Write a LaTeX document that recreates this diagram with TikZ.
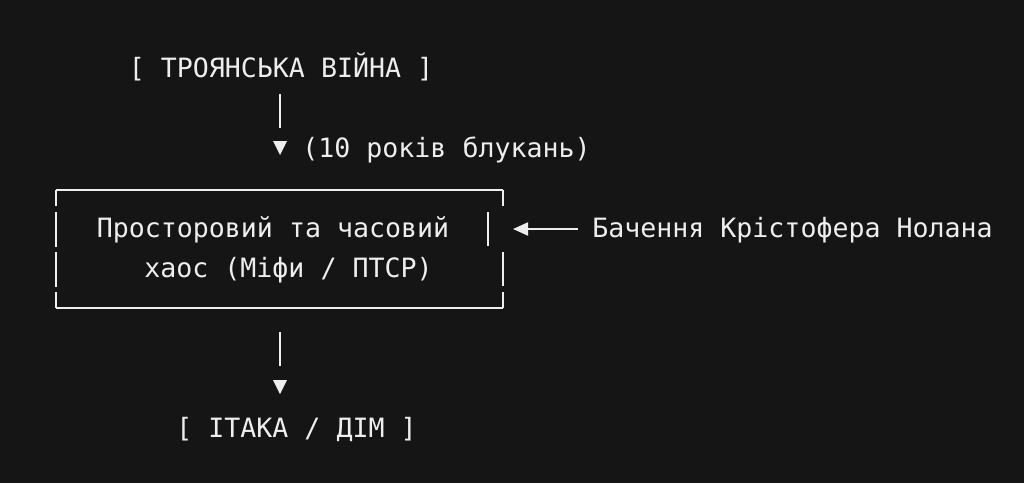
\documentclass[tikz,border=0pt]{standalone}
\usepackage{fontspec}
\setmonofont{DejaVu Sans Mono}
\usetikzlibrary{arrows.meta}
\definecolor{bg}{HTML}{151515}
\definecolor{fg}{HTML}{EEEEEE}
\begin{document}
\begin{tikzpicture}[x=1pt,y=-1pt,
  txt/.style={text=fg, font=\ttfamily\fontsize{26.6}{30}\selectfont, inner sep=0pt, anchor=base},
  ln/.style={draw=fg, line width=2pt},
  tip/.style={fill=fg}]
\fill[bg] (0,0) rectangle (1024,483);
\useasboundingbox (0,0) rectangle (1024,483);

% texts
\node[txt] (war)   at (281,77)    {[ ТРОЯНСЬКА ВІЙНА ]};
\node[txt] (years) at (446.5,157) {(10 років блукань)};
\node[txt] (l1)    at (273,237)   {Просторовий та часовий};
\node[txt] (l2)    at (288.5,277) {хаос (Міфи / ПТСР)};
\node[txt] (nolan) at (792.5,237) {Бачення Крістофера Нолана};
\node[txt] (home)  at (296.5,437) {[ ІТАКА / ДІМ ]};

% box corners
\coordinate (TL) at (56,190);
\coordinate (TR) at (503,190);
\coordinate (BL) at (56,308);
\coordinate (BR) at (503,308);

% box drawn as text-art segments
\draw[ln] (TL) -- (TR);
\draw[ln] (BL) -- (BR);
\draw[ln] (TL) -- ++(0,16);
\draw[ln] (56,212) -- (56,247);
\draw[ln] (56,252) -- (56,287);
\draw[ln] (BL) -- ++(0,-16);
\draw[ln] (TR) -- ++(0,16);
\draw[ln] (488,212) -- (488,246);
\draw[ln] (503,252) -- (503,286);
\draw[ln] (BR) -- ++(0,-16);

% top connector
\coordinate (c1a) at (280,94);
\coordinate (c1b) at (280,128);
\draw[ln] (c1a) -- (c1b);
\fill[tip] (273,141) -- (287,141) -- (280,155) -- cycle;

% bottom connector
\coordinate (c2a) at (280,332);
\coordinate (c2b) at (280,366);
\draw[ln] (c2a) -- (c2b);
\fill[tip] (273,380) -- (287,380) -- (280,394) -- cycle;

% side arrow
\coordinate (boxin) at (513,229);
\draw[ln, -{Triangle[length=15pt,width=13pt]}] ([xshift=-14pt,yshift=8pt]nolan.base west) -- (boxin);
\end{tikzpicture}
\end{document}
